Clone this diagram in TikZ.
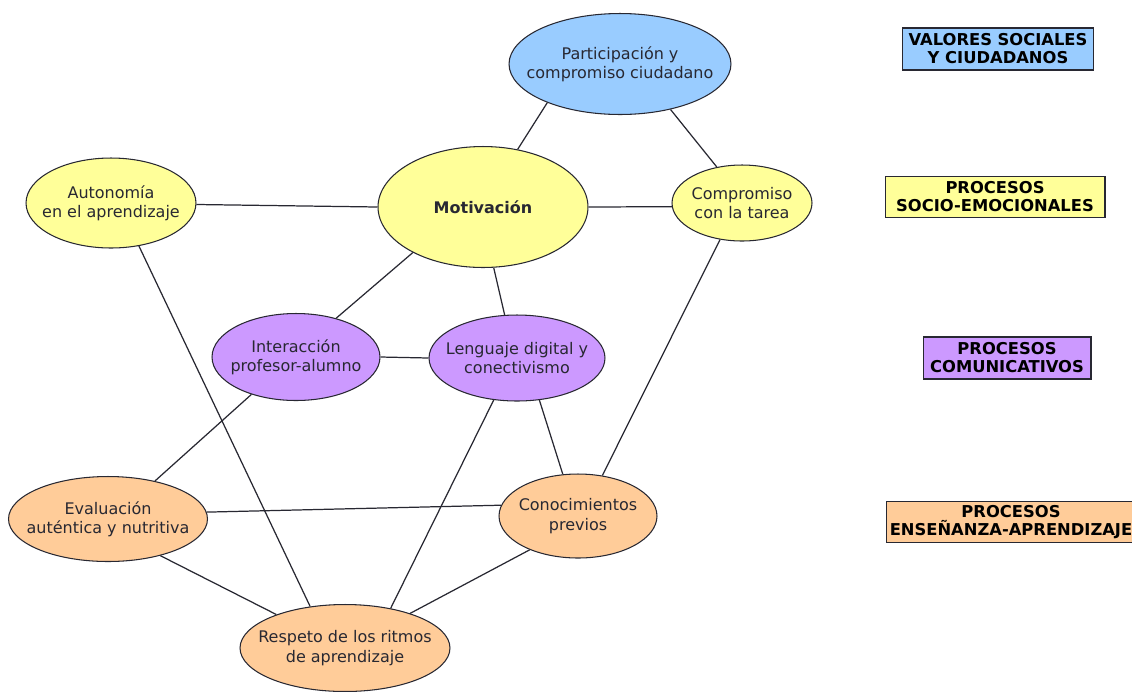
\documentclass[tikz,border=0pt]{standalone}
\usepackage{fontspec}
\setmainfont{DejaVu Sans}
\usetikzlibrary{shapes.geometric}
\definecolor{azul}{RGB}{153,204,255}
\definecolor{amarillo}{RGB}{255,255,153}
\definecolor{lila}{RGB}{204,153,255}
\definecolor{naranja}{RGB}{255,204,153}
\definecolor{borde}{RGB}{40,40,50}
\begin{document}
\begin{tikzpicture}[x=0.02cm,y=-0.02cm,
  proceso/.style={ellipse,draw=borde,line width=0.6pt,inner xsep=-14pt,inner ysep=-4pt,align=center,text=borde,font=\fontsize{9.1}{11}\selectfont},
  leyenda/.style={rectangle,draw=borde,line width=0.6pt,inner sep=0pt,align=center,text=black,font=\fontsize{9.3}{10.2}\selectfont\bfseries},
  enlace/.style={draw=borde,line width=0.7pt}]
\useasboundingbox (0,0) rectangle (1132,691);
\clip (0,0) rectangle (1132,691);
\fill[white] (0,0) rectangle (1132,691);
\node[proceso,fill=azul,minimum width=4.44cm,minimum height=2.02cm] (part) at (620,64) {Participación y\\compromiso ciudadano};
\node[proceso,fill=amarillo,minimum width=4.2cm,minimum height=2.42cm,font=\fontsize{9.1}{11}\selectfont\bfseries] (motiv) at (483,207) {Motivación};
\node[proceso,fill=amarillo,minimum width=3.4cm,minimum height=1.8cm] (auton) at (111,203) {Autonomía\\en el aprendizaje};
\node[proceso,fill=amarillo,minimum width=2.8cm,minimum height=1.52cm] (compr) at (742,203) {Compromiso\\con la tarea};
\node[proceso,fill=lila,minimum width=3.36cm,minimum height=1.74cm] (inter) at (296,357) {Interacción\\profesor-alumno};
\node[proceso,fill=lila,minimum width=3.52cm,minimum height=1.72cm] (lengu) at (517,358) {Lenguaje digital y\\conectivismo};
\node[proceso,fill=naranja,minimum width=3.98cm,minimum height=1.7cm] (evalu) at (108,519) {Evaluación\\auténtica y nutritiva};
\node[proceso,fill=naranja,minimum width=3.16cm,minimum height=1.68cm] (conoc) at (578,516) {Conocimientos\\previos};
\node[proceso,fill=naranja,minimum width=4.2cm,minimum height=1.74cm] (respe) at (345,648) {Respeto de los ritmos\\de aprendizaje};
\draw[enlace] (part.-152) -- (motiv.59);
\draw[enlace] (part.-42) -- (compr.125);
\draw[enlace] (auton.-1) -- (motiv.180);
\draw[enlace] (motiv.east) -- (compr.183);
\draw[enlace] (auton.-57) -- (respe.130);
\draw[enlace] (motiv.-147) -- (inter.44);
\draw[enlace] (motiv.-80) -- (lengu.106);
\draw[enlace] (inter.east) -- (lengu.west);
\draw[enlace] (inter.-140) -- (evalu.39);
\draw[enlace] (lengu.-119) -- (respe.41);
\draw[enlace] (lengu.-62) -- (conoc.110);
\draw[enlace] (compr.-121) -- (conoc.59);
\draw[enlace] (evalu.4) -- (conoc.172);
\draw[enlace] (evalu.-35) -- (respe.154);
\draw[enlace] (conoc.-145) -- (respe.28);
\node[leyenda,fill=azul,minimum width=3.82cm,minimum height=0.84cm] (valores) at (998,49) {VALORES SOCIALES\\Y CIUDADANOS};
\node[leyenda,fill=amarillo,minimum width=4.4cm,minimum height=0.82cm] (socio) at (995,197) {PROCESOS\\SOCIO-EMOCIONALES};
\node[leyenda,fill=lila,minimum width=3.36cm,minimum height=0.84cm] (comun) at (1007,358) {PROCESOS\\COMUNICATIVOS};
\node[leyenda,fill=naranja,minimum width=5.0cm,minimum height=0.82cm] (ensen) at (1011,522) {PROCESOS\\ENSEÑANZA-APRENDIZAJE};
\end{tikzpicture}
\end{document}
